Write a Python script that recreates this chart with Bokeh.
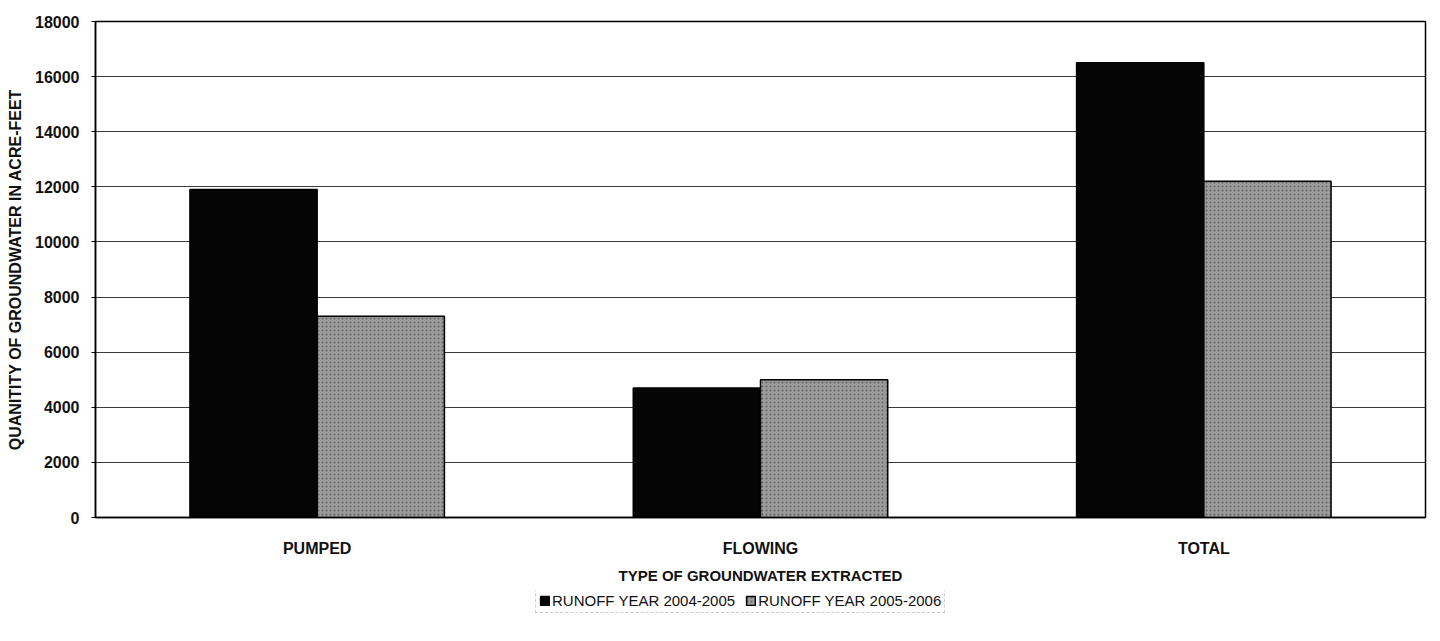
from bokeh.plotting import figure
from bokeh.layouts import column
from bokeh.models import ColumnDataSource, FactorRange, Range1d, FixedTicker, Legend, LegendItem
from bokeh.transform import dodge
from bokeh.embed import file_html
from bokeh.resources import INLINE

categories = ["PUMPED", "FLOWING", "TOTAL"]
year_2004_2005 = [11900, 4700, 16500]
year_2005_2006 = [7300, 5000, 12200]
series_labels = ["RUNOFF YEAR 2004-2005", "RUNOFF YEAR 2005-2006"]
y_ticks = [0, 2000, 4000, 6000, 8000, 10000, 12000, 14000, 16000, 18000]

source = ColumnDataSource(dict(cat=categories, a=year_2004_2005, b=year_2005_2006))

FONT = "Liberation Sans"
TXT = "#111111"
BLACK_STYLE = dict(fill_color="#050505", line_color="black", line_width=1.5)
GRAY_STYLE = dict(fill_color="#9c9c9c", line_color="black", line_width=1.5,
                  hatch_pattern="dot", hatch_color="#4a4a4a", hatch_scale=4, hatch_weight=1, hatch_alpha=0.7)

p = figure(width=1430, height=590, x_range=FactorRange(*categories), y_range=Range1d(0, 18000),
           output_backend="svg", toolbar_location=None,
           min_border_left=95, min_border_right=5, min_border_top=21, min_border_bottom=73)
p.outline_line_color = "black"
p.outline_line_width = 1.5

bw = 0.287
p.vbar(x=dodge("cat", -bw / 2, range=p.x_range), top="a", width=bw, source=source, **BLACK_STYLE)
p.vbar(x=dodge("cat", bw / 2, range=p.x_range), top="b", width=bw, source=source, **GRAY_STYLE)

p.xgrid.grid_line_color = None
p.ygrid.grid_line_color = "#3a3a3a"
p.ygrid.grid_line_width = 1
p.ygrid.ticker = FixedTicker(ticks=y_ticks)

ya = p.yaxis[0]
ya.ticker = FixedTicker(ticks=y_ticks)
ya.axis_label = "QUANITITY OF GROUNDWATER IN ACRE-FEET"
ya.axis_label_text_font = FONT
ya.axis_label_text_font_style = "bold"
ya.axis_label_text_font_size = "16px"
ya.axis_label_text_color = TXT
ya.axis_label_standoff = 8
ya.major_label_text_font = FONT
ya.major_label_text_font_style = "bold"
ya.major_label_text_font_size = "16px"
ya.major_label_text_color = TXT
ya.major_label_standoff = 12
ya.major_tick_out = 4
ya.major_tick_in = 0
ya.minor_tick_out = 0
ya.minor_tick_in = 0
ya.axis_line_color = "black"
ya.axis_line_width = 1.5

xa = p.xaxis[0]
xa.axis_label = "TYPE OF GROUNDWATER EXTRACTED"
xa.axis_label_text_font = FONT
xa.axis_label_text_font_style = "bold"
xa.axis_label_text_font_size = "15px"
xa.axis_label_text_color = TXT
xa.axis_label_standoff = 7
xa.major_label_text_font = FONT
xa.major_label_text_font_style = "bold"
xa.major_label_text_font_size = "16px"
xa.major_label_text_color = TXT
xa.major_label_standoff = 22
xa.major_tick_out = 0
xa.major_tick_in = 0
xa.axis_line_color = "black"
xa.axis_line_width = 1.5

# legend strip (its frame is aligned with the main plot's frame by the column layout)
lg = figure(width=1430, height=35, x_range=Range1d(0, 1), y_range=Range1d(0, 1),
            output_backend="svg", toolbar_location=None,
            min_border_left=95, min_border_right=5, min_border_top=0, min_border_bottom=0)
lg.axis.visible = False
lg.grid.visible = False
lg.outline_line_color = None
# tiny key renderers hidden behind the opaque legend box; only their swatches show
k1 = lg.vbar(x=[0.5], bottom=[0.55], top=[0.6], width=0.005, **BLACK_STYLE)
k2 = lg.vbar(x=[0.5], bottom=[0.55], top=[0.6], width=0.005, **GRAY_STYLE)
legend = Legend(items=[LegendItem(label=series_labels[0], renderers=[k1]),
                       LegendItem(label=series_labels[1], renderers=[k2])],
                orientation="horizontal", location=(440, 12))
legend.label_text_font = FONT
legend.label_text_font_size = "15px"
legend.label_text_color = TXT
legend.label_standoff = 2
legend.label_height = 16
legend.glyph_width = 11
legend.glyph_height = 11
legend.spacing = 10
legend.padding = 3
legend.margin = 0
legend.border_line_color = "#9a9a9a"
legend.border_line_dash = "6 3"
legend.border_line_width = 1
legend.background_fill_color = "white"
legend.background_fill_alpha = 1
lg.add_layout(legend, "center")

layout = column(p, lg, spacing=0)
open("out.html", "w").write(file_html(layout, INLINE))
